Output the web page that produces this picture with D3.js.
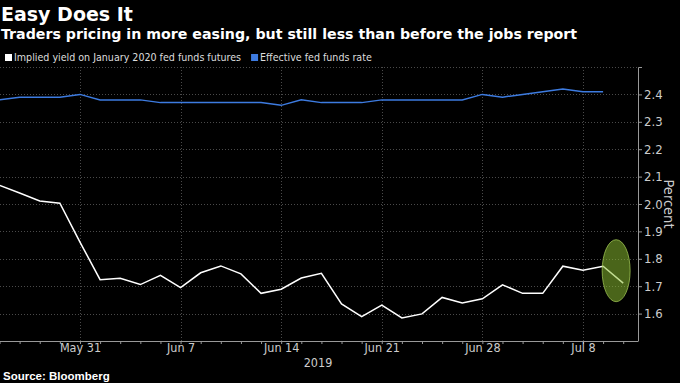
<!DOCTYPE html>
<html><head><meta charset="utf-8">
<script src="https://cdn.jsdelivr.net/npm/d3@7"></script>
<style>
html,body{margin:0;padding:0;background:#000;}
svg{display:block;}
text{font-family:"Liberation Sans Narrow","DejaVu Sans Condensed","Liberation Sans",Arial,sans-serif;}
</style></head>
<body>
<svg id="chart" width="680" height="383"></svg>
<script>
// Trading days (holidays excluded)
const dates = ["May 24","May 28","May 29","May 30","May 31","Jun 3","Jun 4","Jun 5","Jun 6","Jun 7",
  "Jun 10","Jun 11","Jun 12","Jun 13","Jun 14","Jun 17","Jun 18","Jun 19","Jun 20","Jun 21",
  "Jun 24","Jun 25","Jun 26","Jun 27","Jun 28","Jul 1","Jul 2","Jul 3","Jul 5","Jul 8","Jul 9","Jul 10"];
const implied = [2.068,2.040,2.011,2.003,1.861,1.724,1.729,1.706,1.740,1.695,
  1.749,1.774,1.745,1.674,1.689,1.730,1.747,1.635,1.589,1.631,
  1.584,1.599,1.659,1.639,1.654,1.705,1.674,1.674,1.773,1.758,1.773,1.711];
const effective = [2.38,2.39,2.39,2.39,2.40,2.38,2.38,2.38,2.37,2.37,
  2.37,2.37,2.37,2.37,2.36,2.38,2.37,2.37,2.37,2.38,
  2.38,2.38,2.38,2.38,2.40,2.39,2.40,2.41,2.42,2.41,2.41];
const xTickLabels = ["May 31","Jun 7","Jun 14","Jun 21","Jun 28","Jul 8"];
const yTicks = [1.6,1.7,1.8,1.9,2.0,2.1,2.2,2.3,2.4];
const seriesNames = ["Implied yield on January 2020 fed funds futures","Effective fed funds rate"];
const seriesColors = ["#ffffff","#3d7be0"];

const svg = d3.select("#chart");
const plotLeft = 0, plotRight = 638, plotTop = 67, plotBottom = 341;
const narrow = '"Liberation Sans Narrow","DejaVu Sans Condensed",Arial,sans-serif';

const x = d3.scaleLinear().domain([0, dates.length - 1]).range([-0.5, 623.2]);
const y = d3.scaleLinear().domain([1.5, 2.5]).range([plotBottom, plotTop]);

// Title & subtitle
svg.append("text").attr("x", 1).attr("y", 20.5).attr("fill", "#fff")
  .style("font-family", '"DejaVu Sans",sans-serif')
  .attr("font-size", 19).attr("font-weight", "bold").text("Easy Does It");
svg.append("text").attr("x", 1).attr("y", 38.5).attr("fill", "#fff")
  .style("font-family", '"DejaVu Sans",sans-serif')
  .attr("font-size", 14.2).attr("font-weight", "bold")
  .text("Traders pricing in more easing, but still less than before the jobs report");

// Legend
const leg = svg.append("g");
let lx = 5;
seriesNames.forEach((n, i) => {
  leg.append("rect").attr("x", lx).attr("y", 54).attr("width", 7).attr("height", 7).attr("fill", seriesColors[i]);
  const t = leg.append("text").attr("x", lx + 9).attr("y", 61).attr("fill", "#ddd")
    .attr("font-size", 10.6).text(n);
  lx += 9 + t.node().getComputedTextLength() + 10;
});

// Gridlines
const grid = svg.append("g").attr("stroke", "#4a4a4a").attr("stroke-width", 1).attr("stroke-dasharray", "1,2");
grid.selectAll(".hg").data(yTicks.concat([2.5])).join("line")
  .attr("x1", plotLeft).attr("x2", plotRight)
  .attr("y1", d => Math.round(y(d)) + 0.5).attr("y2", d => Math.round(y(d)) + 0.5);
grid.selectAll(".vg").data(xTickLabels).join("line")
  .attr("x1", d => Math.round(x(dates.indexOf(d))) + 0.5).attr("x2", d => Math.round(x(dates.indexOf(d))) + 0.5)
  .attr("y1", plotTop).attr("y2", plotBottom);

// X axis
const xAxis = d3.axisBottom(x)
  .tickValues(d3.range(dates.length)).tickSize(3).tickFormat("");
const gx = svg.append("g").attr("transform", `translate(0,${plotBottom})`).call(xAxis);
gx.select(".domain").remove();
gx.selectAll(".tick line").attr("stroke", "#999");
gx.append("line").attr("x1", plotLeft).attr("x2", plotRight).attr("y1", 0.5).attr("y2", 0.5).attr("stroke", "#999");
const gxl = svg.append("g").attr("transform", `translate(0,${plotBottom})`)
  .call(d3.axisBottom(x).tickValues(xTickLabels.map(d => dates.indexOf(d)))
    .tickSize(0).tickPadding(2).tickFormat(i => dates[i]));
gxl.select(".domain").remove();
gxl.selectAll("text").attr("fill", "#ccc").attr("font-size", 12.5).style("font-family", narrow);
svg.append("text").attr("x", 318).attr("y", 367).attr("text-anchor", "middle")
  .attr("fill", "#ccc").attr("font-size", 12.5).text("2019");

// Y axis (right)
const yAxis = d3.axisRight(y).tickValues(yTicks).tickSize(4).tickPadding(2).tickFormat(d3.format(".1f"));
const gy = svg.append("g").attr("transform", `translate(${plotRight},0)`).call(yAxis);
gy.select(".domain").attr("stroke", "#999").attr("d", `M4,${plotTop}.5H0.5V${plotBottom}.5`);
gy.selectAll(".tick line").attr("stroke", "#999");
gy.selectAll("text").attr("fill", "#ccc").attr("font-size", 13).style("font-family", narrow);
svg.append("text").attr("transform", `translate(664,204) rotate(90)`).attr("text-anchor", "middle")
  .attr("fill", "#ccc").attr("font-size", 14.5).text("Percent");

// Lines
const line = d3.line().x((d, i) => x(i)).y(d => y(d));
svg.append("path").datum(effective).attr("d", line).attr("fill", "none")
  .attr("stroke", seriesColors[1]).attr("stroke-width", 1.5);
svg.append("path").datum(implied).attr("d", line).attr("fill", "none")
  .attr("stroke", seriesColors[0]).attr("stroke-width", 1.5);

// Highlight ellipse around the last move
const last = implied.length - 1;
svg.append("ellipse")
  .attr("cx", (x(last - 1) + x(last)) / 2 + 3).attr("cy", y((implied[last - 1] + implied[last]) / 2) - 4)
  .attr("rx", 14).attr("ry", 31)
  .attr("fill", "rgba(140,190,50,0.53)").attr("stroke", "rgba(170,210,90,0.7)").attr("stroke-width", 1);

// Source
svg.append("text").attr("x", 3).attr("y", 380).attr("fill", "#fff")
  .style("font-family", '"Liberation Sans",Arial,sans-serif')
  .attr("font-size", 11.5).attr("font-weight", "bold").text("Source: Bloomberg");
</script>
</body></html>
